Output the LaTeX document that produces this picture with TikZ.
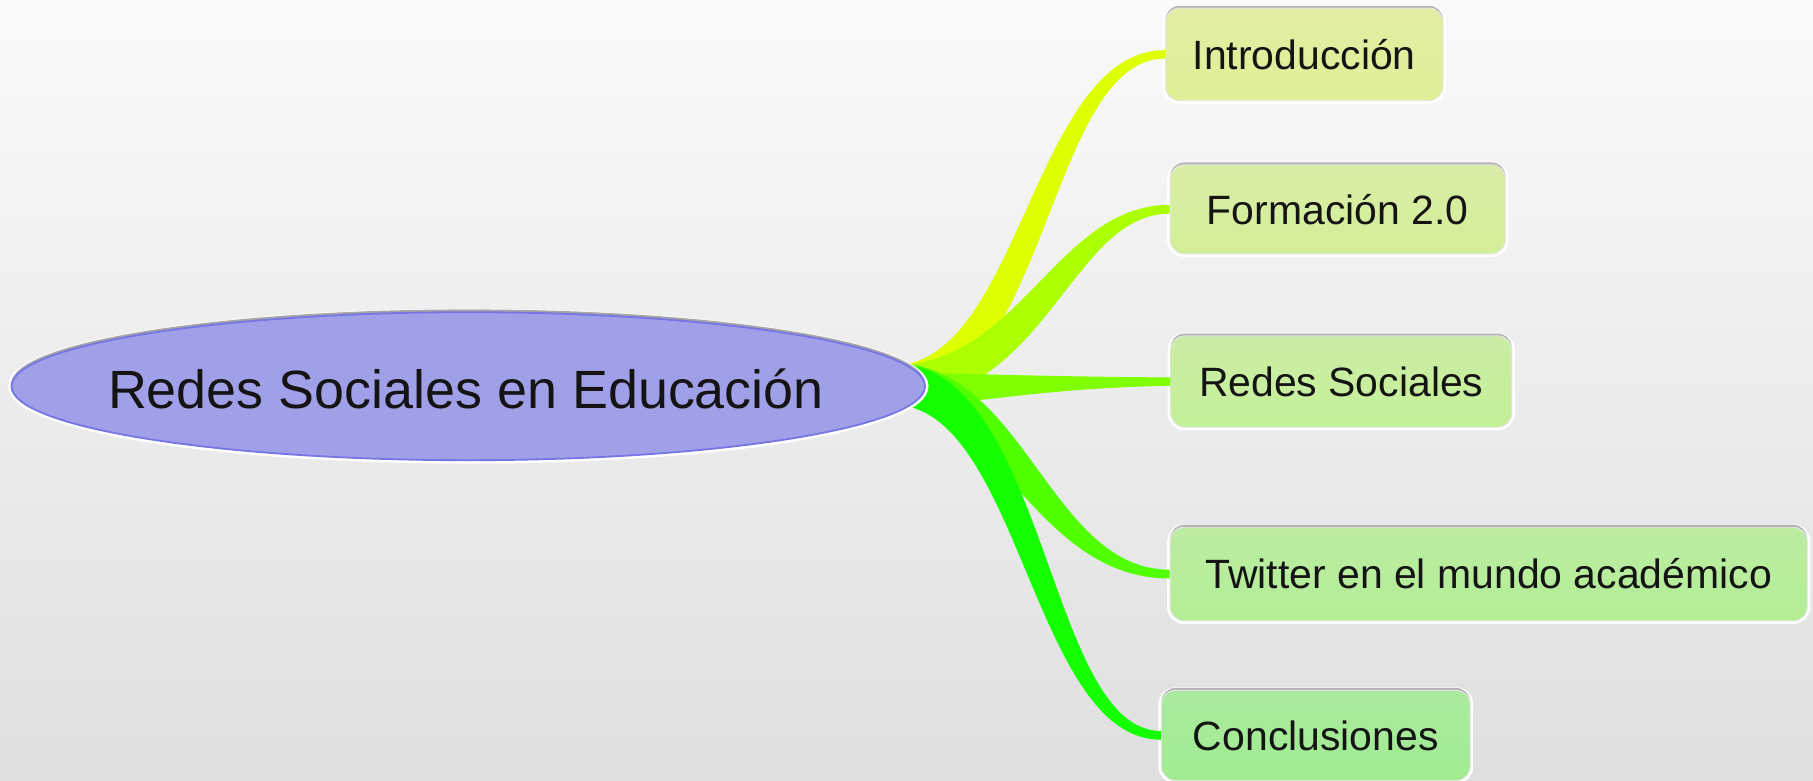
\documentclass[tikz,border=0pt]{standalone}
\usepackage{fontspec}
\setmainfont{Liberation Sans}
\usetikzlibrary{shapes.geometric,shadows,calc}
\definecolor{bgtop}{RGB}{250,250,250}
\definecolor{bgbot}{RGB}{223,223,223}
\definecolor{elfill}{RGB}{160,160,232}
\definecolor{elborder}{RGB}{118,118,228}
\definecolor{txt}{RGB}{20,20,20}
\definecolor{cA}{RGB}{221,255,0}
\definecolor{cB}{RGB}{172,255,0}
\definecolor{cC}{RGB}{128,255,0}
\definecolor{cD}{RGB}{80,255,0}
\definecolor{cE}{RGB}{20,255,0}
\definecolor{bAt}{RGB}{228,236,164}\definecolor{bAb}{RGB}{222,240,150}
\definecolor{bBt}{RGB}{218,236,166}\definecolor{bBb}{RGB}{210,240,152}
\definecolor{bCt}{RGB}{204,236,166}\definecolor{bCb}{RGB}{196,240,152}
\definecolor{bDt}{RGB}{188,236,162}\definecolor{bDb}{RGB}{178,238,150}
\definecolor{bEt}{RGB}{170,234,158}\definecolor{bEb}{RGB}{160,236,146}
% #1 colour, #2 target node, #3 first control dx, #4 second control dx,
% #5 root half width, #6 end half width, #7 root sideways shift, #8 end sideways shift
\newcommand\mmbranch[8]{%
  \fill[#1] let \p1=(root), \p2=(#2.west) in
   ({\x1},{\y1+#5}) .. controls ({\x1+#3-(#7)},{\y1+#5}) and ({\x2-#4-(#8)},{\y2+#6}) .. ({\x2},{\y2+#6})
   -- ({\x2},{\y2-#6}) .. controls ({\x2-#4+(#8)},{\y2-#6}) and ({\x1+#3+(#7)},{\y1-#5}) .. ({\x1},{\y1-#5}) -- cycle;}
\tikzset{
  mmbox/.style={rectangle, rounded corners=6pt, inner sep=0pt,
    font=\fontsize{17.7}{20}\selectfont, text=txt,
    preaction={draw=white, line width=2.6pt},
    general shadow={shadow yshift=1pt, fill=gray!60},
    draw=black!10, line width=0.4pt},
}
\begin{document}
\begin{tikzpicture}[x=0.5pt,y=-0.5pt]
\useasboundingbox (0,0) rectangle (1568,675);
\shade[top color=bgtop, bottom color=bgbot] (0,0) rectangle (1568,675);
\coordinate (root) at (772,332);
\node[mmbox, top color=bAt, bottom color=bAb, minimum width=120pt, minimum height=40pt] (b1) at (1128,47) {Introducción};
\node[mmbox, top color=bBt, bottom color=bBb, minimum width=145pt, minimum height=38.5pt] (b2) at (1157,181) {Formación 2.0};
\node[mmbox, top color=bCt, bottom color=bCb, minimum width=147.5pt, minimum height=39.5pt] (b3) at (1160,330) {Redes Sociales};
\node[mmbox, top color=bDt, bottom color=bDb, minimum width=275.5pt, minimum height=40.5pt] (b4) at (1287.5,496.5) {Twitter en el mundo académico};
\node[mmbox, top color=bEt, bottom color=bEb, minimum width=133.5pt, minimum height=39pt] (b5) at (1138,636) {Conclusiones};
\mmbranch{cA}{b1}{61pt}{54pt}{8pt}{1.8pt}{6pt}{3pt}
\mmbranch{cB}{b2}{61pt}{46pt}{8pt}{1.9pt}{6pt}{3pt}
\fill[cC] let \p1=(root), \p2=(b3.west) in
   ({\x1},{\y1+5pt}) .. controls ({\x1+46pt},{\y1+4pt}) and ({\x2-40pt},{\y2+2pt}) .. ({\x2},{\y2+1.8pt})
   -- ({\x2},{\y2-1.8pt}) .. controls ({\x2-60pt},{\y2-3pt}) and ({\x1+36pt},{\y1-9pt}) .. ({\x1},{\y1-10pt}) -- cycle;
\mmbranch{cD}{b4}{51pt}{55pt}{9pt}{1.9pt}{-6pt}{-3pt}
\mmbranch{cE}{b5}{61pt}{52.5pt}{9pt}{1.9pt}{-6pt}{-3pt}
\node[ellipse, minimum width=395pt, minimum height=64pt, inner sep=0pt,
  fill=elfill, draw=elborder, line width=0.8pt,
  preaction={draw=white, line width=3pt},
  general shadow={shadow yshift=1.2pt, fill=gray!70}] (main) at (405,334) {};
\node[inner sep=0pt, font=\fontsize{23.3}{26}\selectfont, text=txt] (mainlabel) at (403,336) {Redes Sociales en Educación};
\end{tikzpicture}
\end{document}
